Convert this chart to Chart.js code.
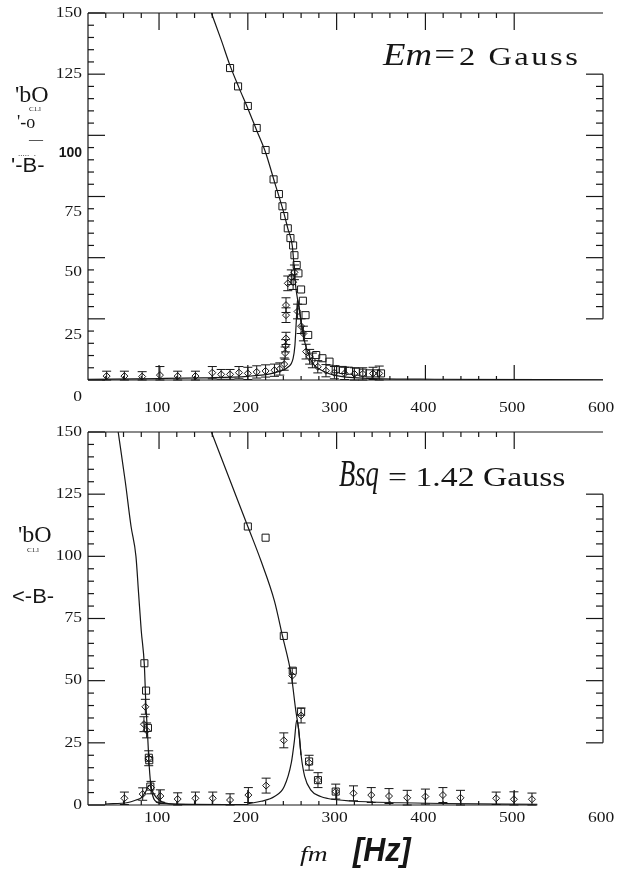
<!DOCTYPE html>
<html>
<head>
<meta charset="utf-8">
<title>fm response</title>
<style>
  body { margin: 0; background: #fff; width: 625px; height: 869px; position: relative; overflow: hidden; }
  canvas { position: absolute; left: 0; }
</style>
</head>
<body>
<canvas id="upper" width="625" height="430" style="top:0px"></canvas>
<canvas id="lower" width="625" height="449" style="top:420px"></canvas>
<script src="https://cdn.jsdelivr.net/npm/chart.js@4/dist/chart.umd.min.js"></script>
<script>
const ink = '#161616';

const xTicks = [100, 200, 300, 400, 500, 600];
const yTicks = [0, 25, 50, 75, 100, 125, 150];

// upper panel (Em = 2 Gauss)
const upSquareX = [180,189,200,210,220,229,235,239,241,245,248,251,252.5,255,257,260,262,265,268,277,284,292,299,307,314,322,329.5,337,344.5,350];
const upSquareY = [127.5,120,112,103,94,82,76,71,67,62,58,55,51,47,43.6,37,32.4,26.5,18.4,10.2,8.9,7.5,4.4,4.1,3.8,3.4,3,2.7,2.7,2.7];
const upDiamondX = [41,61,81,101,121,141,160,170,180,190,200,210,220,230,236,241,242,242.5,243,243,243,245,249,251,252.5,256,260,262.6,265.6,269.6,272.7,278.8,288,297.5,309,320,329.5,341,348];
const upDiamondY = [1.6,1.6,1.4,2,1.6,1.6,3,2.3,2.3,3,2.7,3.3,3.7,4,4.5,6.5,11,14,17,26.5,30.6,39.5,42,40,44,28,22,19,11.6,9.5,8,5.4,3.8,3,2.7,2.5,2.5,2.7,2.7];
const upDiamondErr = [2,2,2,3.5,2,2,2.5,2,2,2.5,2.5,2.5,2.5,2.5,2.5,2.5,2.5,2.5,2.5,3,3,3,3,3,3,3,3,3,3,3,3,2.5,2.5,2.5,2.5,2.5,2.5,2.5,3];
const upFitAX = [159,170,180,190,200,210,220,230,240,245,250,252,254,256,260,264,270,275,283,297,335,410,600];
const upFitAY = [150,139,128.5,119.5,111,102,93,81,69,62,55,47,38,33,24,15.6,9,6,4,2,0.7,0.3,0.1];
const upFitBX = [20,100,150,200,225,235,245,251,253,254,255,256,260,264];
const upFitBY = [0.3,0.6,0.9,1.5,2.5,3.5,5.2,8.8,14,20,27,33,24,15.6];

// lower panel (Bsq = 1.42 Gauss)
const lowSquareX = [83.5,85.4,87.5,88.5,89,90.2,200,220,240.5,250.6,260,269,279,299];
const lowSquareY = [57,46,31,19,18,7.4,112,107.5,68,54,37.5,17.5,10,5.4];
const lowDiamondX = [61,81.6,83,84.6,86,88.4,91,101.5,121,141,160.5,180,200.6,220.6,240.5,250,260,269,279,299,319,339,359,379.5,400,419.7,439.5,479.7,499.7,520];
const lowDiamondY = [2.7,4.4,32.5,39.5,30,18.8,7,3.6,2.4,2.7,2.7,2,4,7.8,26,52,36,17,10,5.4,4.7,4,3.6,2.9,3.4,4,2.9,2.7,2.3,2.3];
const lowDiamondErr = [2.5,2.5,3,3,3,3,2.5,2.5,2.5,2.5,2.5,2.5,3,3,3,3,3,3,3,3,3,3,3,3,3,3,3,2.5,3,2.5];
const lowFitAX = [54,62,68.5,74,77,80,83.5,85,87,89,91,95,104,200];
const lowFitAY = [150,130,112,100,85,70,56,42,29,15.4,7.4,2,0.6,0.2];
const lowFitBX = [40,65,74,80,85,89,94,100,117,200];
const lowFitBY = [0.4,1,2,2.9,5.4,8,4.5,2,0.3,0.1];
const lowFitCX = [159,180,200,215,230,239,249,254,257,260,264,271,282,290,316,372,420,526];
const lowFitCY = [150,130.5,112,98,82,68,52,38,31,20,11.5,6,3.4,2.6,1.6,0.9,0.6,0.3];
const lowFitDX = [200,215,230,241,249,252.5,255,257,260];
const lowFitDY = [0.5,1.5,3.4,7.4,17,26,34,31,20];

const pts = (xs, ys) => xs.map((x, i) => ({ x: x, y: ys[i] }));

function fit(xs, ys) {
  return { data: pts(xs, ys), showLine: true, borderColor: ink, borderWidth: 1.2,
    pointRadius: 0, cubicInterpolationMode: 'monotone', fill: false };
}
function squares(xs, ys) {
  return { data: pts(xs, ys), pointStyle: 'rect', pointRadius: 5, borderColor: ink,
    borderWidth: 1, backgroundColor: 'rgba(0,0,0,0)' };
}
function diamonds(xs, ys, err) {
  return { data: pts(xs, ys), errors: err, pointStyle: 'rectRot', pointRadius: 3.5,
    borderColor: ink, borderWidth: 1, backgroundColor: 'rgba(0,0,0,0)' };
}

function text(ctx, t, x, y, font, sx, align, spacing) {
  ctx.save();
  ctx.font = font;
  ctx.textAlign = align || 'left';
  ctx.letterSpacing = spacing || '0px';
  ctx.translate(x, y);
  ctx.scale(sx || 1, 1);
  ctx.fillText(t, 0, 0);
  ctx.restore();
}

const errorBars = {
  id: 'errorBars',
  afterDatasetsDraw(chart) {
    const { ctx, scales: { y } } = chart;
    ctx.save();
    ctx.strokeStyle = ink;
    ctx.lineWidth = 1;
    chart.data.datasets.forEach((ds, i) => {
      if (!ds.errors) return;
      chart.getDatasetMeta(i).data.forEach((p, j) => {
        const v = ds.data[j].y, e = ds.errors[j];
        const t = y.getPixelForValue(v + e), b = y.getPixelForValue(Math.max(0, v - e));
        ctx.beginPath();
        ctx.moveTo(p.x, t); ctx.lineTo(p.x, b);
        ctx.moveTo(p.x - 4.5, t); ctx.lineTo(p.x + 4.5, t);
        ctx.moveTo(p.x - 4.5, b); ctx.lineTo(p.x + 4.5, b);
        ctx.stroke();
      });
    });
    ctx.restore();
  }
};

// axes drawn like the scanned figure: inward ticks, partial right/bottom lines
const frame = {
  id: 'frame',
  afterDatasetsDraw(chart, args, o) {
    const { ctx, chartArea: a, scales: { x, y } } = chart;
    ctx.save();
    ctx.strokeStyle = ink;
    ctx.lineWidth = 1.2;
    const seg = (x1, y1, x2, y2) => { ctx.beginPath(); ctx.moveTo(x1, y1); ctx.lineTo(x2, y2); ctx.stroke(); };
    seg(a.left, a.top, a.left, a.bottom);
    seg(a.left, a.top, a.right, a.top);
    seg(a.left, a.bottom, x.getPixelForValue(o.bottomEnd), a.bottom);
    seg(a.right, y.getPixelForValue(o.rightTo), a.right, y.getPixelForValue(o.rightFrom));
    for (let v = 0; v <= 150; v += 5) {
      const major = v % 25 === 0, py = y.getPixelForValue(v);
      seg(a.left, py, a.left + (major ? 17 : 6), py);
      if (v >= o.rightFrom && v <= o.rightTo) seg(a.right, py, a.right - (major ? 17 : 7), py);
    }
    for (let v = 40; v <= 500; v += 20) {
      const major = v % 100 === 0, px = x.getPixelForValue(v);
      seg(px, a.top, px, a.top + (major ? 17 : 5));
      seg(px, a.bottom, px, a.bottom - (major ? 15 : 4));
    }
    ctx.fillStyle = ink;
    ctx.textBaseline = 'middle';
    const serif = '14px "Liberation Serif"';
    yTicks.forEach(v => {
      const py = y.getPixelForValue(v) + (o.yShift[v] || 0);
      if (o.yFont[v]) text(ctx, String(v), a.left - 6, py, o.yFont[v], 1, 'right');
      else text(ctx, String(v), a.left - 6, py, serif, 1.25, 'right');
    });
    xTicks.forEach(v => {
      text(ctx, String(v), x.getPixelForValue(v) - 2, a.bottom + o.xGap, serif, 1.25, 'center');
    });
    ctx.textBaseline = 'alphabetic';
    o.notes.forEach(n => text(ctx, n.t, n.x, n.y, n.font, n.sx, 'left', n.sp));
    ctx.restore();
  }
};

function panel(id, pad, datasets, frameOpts) {
  return new Chart(document.getElementById(id), {
    type: 'scatter',
    data: { datasets: datasets },
    options: {
      responsive: false,
      animation: false,
      layout: { padding: pad },
      scales: {
        x: { type: 'linear', min: 20, max: 600, display: false },
        y: { type: 'linear', min: 0, max: 150, display: false }
      },
      plugins: { legend: { display: false }, tooltip: { enabled: false }, frame: frameOpts }
    },
    plugins: [errorBars, frame]
  });
}

panel('upper', { left: 88, top: 13, right: 22, bottom: 50 }, [
  fit(upFitAX, upFitAY),
  fit(upFitBX, upFitBY),
  squares(upSquareX, upSquareY),
  diamonds(upDiamondX, upDiamondY, upDiamondErr)
], {
  bottomEnd: 600, rightFrom: 25, rightTo: 125, xGap: 28,
  yShift: { 0: 17, 25: 16, 50: 15, 75: 16, 100: 18 },
  yFont: { 100: 'bold 14px "Liberation Sans"' },
  notes: [
    { t: 'Em=', x: 383, y: 65, font: 'italic 32px "Liberation Serif"', sx: 1.15 },
    { t: '2 Gauss', x: 459, y: 65, font: '26px "Liberation Serif"', sx: 1.25, sp: '2px' },
    { t: "'bO", x: 15, y: 102, font: '24px "Liberation Serif"' },
    { t: 'C1.l', x: 29, y: 111, font: '7px "Liberation Serif"' },
    { t: "'-o", x: 17, y: 128, font: '18px "Liberation Serif"' },
    { t: '\u2014', x: 29, y: 144, font: '14px "Liberation Serif"' },
    { t: '.....  .', x: 18, y: 156, font: '9px "Liberation Serif"' },
    { t: "'-B-", x: 11, y: 172, font: '20px "Liberation Sans"', sx: 1.1 }
  ]
});

panel('lower', { left: 88, top: 12, right: 22, bottom: 64 }, [
  fit(lowFitAX, lowFitAY),
  fit(lowFitBX, lowFitBY),
  fit(lowFitCX, lowFitCY),
  fit(lowFitDX, lowFitDY),
  squares(lowSquareX, lowSquareY),
  diamonds(lowDiamondX, lowDiamondY, lowDiamondErr)
], {
  bottomEnd: 526, rightFrom: 25, rightTo: 125, xGap: 13,
  yShift: {}, yFont: {},
  notes: [
    { t: 'Bsq', x: 339, y: 66, font: 'italic 38px "Liberation Serif"', sx: 0.7 },
    { t: '= 1.42 Gauss', x: 388, y: 66, font: '27px "Liberation Serif"', sx: 1.25 },
    { t: "'bO", x: 18, y: 122, font: '24px "Liberation Serif"' },
    { t: 'C1.l', x: 27, y: 132, font: '7px "Liberation Serif"' },
    { t: '<-B-', x: 12, y: 183, font: '20px "Liberation Sans"', sx: 1.1 },
    { t: 'fm', x: 300, y: 441, font: 'italic 22px "Liberation Serif"', sx: 1.25 },
    { t: '[Hz]', x: 353, y: 441, font: 'italic bold 34px "Liberation Sans"', sx: 0.9 }
  ]
});
</script>
</body>
</html>
